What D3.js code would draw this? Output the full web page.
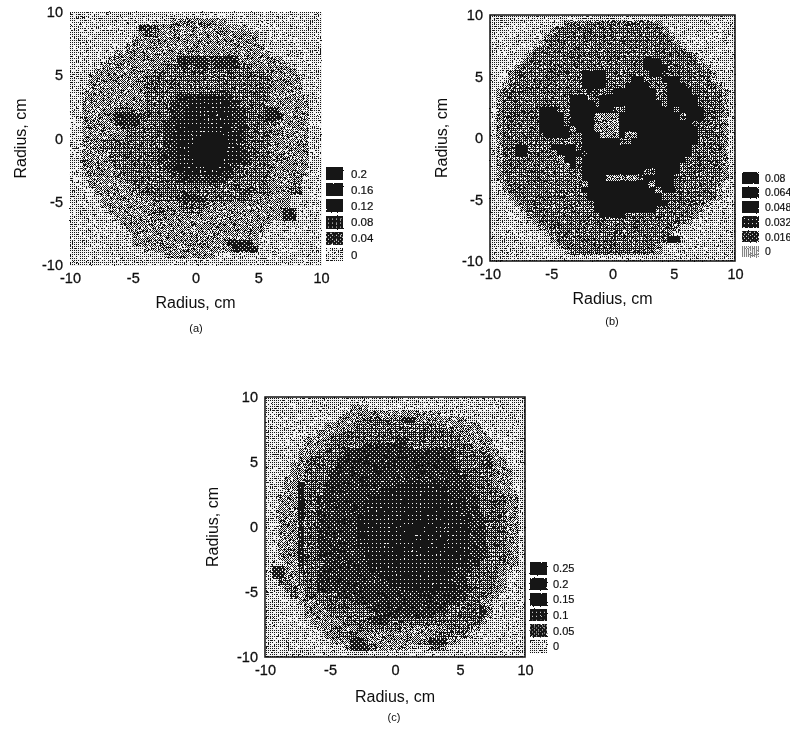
<!DOCTYPE html>
<html>
<head>
<meta charset="utf-8">
<script src="https://cdnjs.cloudflare.com/ajax/libs/d3/7.8.5/d3.min.js"></script>
<style>
	html, body { margin: 0; padding: 0; background: #fff; }
	text { font-family: "Liberation Sans", Arial, sans-serif; fill: #111; }
</style>
</head>
<body>
<div class="wrapper"></div>
<script>

// axis ticks, shared by all three maps
var tickValues = [-10, -5, 0, 5, 10];

// legend text, top to bottom
var legendA = ["0.2", "0.16", "0.12", "0.08", "0.04", "0"];
var legendB = ["0.08", "0.064", "0.048", "0.032", "0.016", "0"];
var legendC = ["0.25", "0.2", "0.15", "0.1", "0.05", "0"];

// grey level the scan shows in each legend box
var legendLevelsA = [5, 5, 5, 4, 3, 0];
var legendLevelsB = [5, 5, 5, 4, 3, 0];
var legendLevelsC = [5, 5, 5, 4, 3, 0];

// maps: 40 x 40 cells of 0.5 cm, top row is radius +10
var gridA = [
	"0000000000000000000000000000000000000000",
	"0000000000000000111111111000000000000000",
	"0000000000033211111111111111000000000000",
	"0000000000013211111111111111110000000000",
	"0000000000111111111111111111110000000000",
	"0000000001111111111111111111111000000000",
	"0000000111111111111111111111111100000000",
	"0000001111111111133333233331111111000000",
	"0000011111111112233233233332211111100000",
	"0000111111111222222222222222222111110000",
	"0001111111112222222222222222222211111000",
	"0001111111112222222222222222222211111000",
	"0011111111112222222222222222222211111000",
	"0011111111112222233344443322222211111100",
	"0011111111112222333444444332222111111100",
	"0011111222112222334444444433222331111100",
	"0011111333322222334444444433222333111100",
	"0011111333322223344444444433222221111100",
	"0011111122222223344444444433222111111100",
	"0011111112222223344445554443222211111100",
	"0011122222222223344455555443222211111100",
	"0011122222222223344555555443222211111100",
	"0011112222222233344555555443322211111100",
	"0011112222222233344455554443322211111100",
	"0011111222222223344444444332222211111100",
	"0011111122222222334444443322222211111100",
	"0001111112222222233333333222222211111000",
	"0001111111222222222222222222222211121000",
	"0000111111122222222222222223322211122000",
	"0000011111111222233333222222211111100000",
	"0000011111111111122222111111111111100000",
	"0000001111111221112221111111111111330000",
	"0000000111111111111111111111111111330000",
	"0000000011111111111111111111111100000000",
	"0000000001111111111111111111111000000000",
	"0000000000111111111111111111110000000000",
	"0000000000111111111111111333310000000000",
	"0000000000001111111111111133330000000000",
	"0000000000000001111111100000000000000000",
	"0000000000000000000000000000000000000000"
];

var gridB = [
	"0000000000000000000000000000000000000000",
	"0000000000001222222222222221000000000000",
	"0000000000122222222222222222100000000000",
	"0000000001222222222222222222210000000000",
	"0000000012222222222222222222221000000000",
	"0000000122222222222222222222222100000000",
	"0000001222222222222222222222222221000000",
	"0000012222222222222222222555222222100000",
	"0000122222222222222222222555522222210000",
	"0001222222222225555222222255322222221000",
	"0001222222222225555222255222555222221000",
	"0012222222222225555222555522255522222100",
	"0122222222222222332255555552255552222210",
	"0122222222222555225555555552255555222210",
	"0122222222222555525555555555255555222210",
	"0122222255522555555522555555552555522210",
	"0122222255552555511115555555555255522210",
	"0122222255552555511115555555555552222210",
	"0122222255555155511115555555555555222210",
	"0122222225555225551115115555555555222210",
	"0122222222222225555552255555555555222210",
	"0122552222555525555555555555555552222210",
	"0122552222155553555555555555555552222210",
	"0122222222215525555555555555555522222210",
	"0122222222221525555555555555555222222210",
	"0122222222222215555555555225555222222210",
	"0122222222222215555111112555552222222210",
	"0012222222222221555555555515552222222100",
	"0012222222222225555555555551552222222100",
	"0001222222222222555555555555222222222100",
	"0000122222222222255555555555522222210000",
	"0000012222222222255555555552222222100000",
	"0000001222222222225555222222222221000000",
	"0000000122222222222222222222222210000000",
	"0000000012222222222222222222221000000000",
	"0000000001222222222222222222210000000000",
	"0000000000122222222222222222255000000000",
	"0000000000012222222222222221000000000000",
	"0000000000001222222222222221000000000000",
	"0000000000000000000000000000000000000000"
];

var gridC = [
	"0000000000000000000000000000000000000000",
	"0000000000000111000000000000000000000000",
	"0000000000001111111111111110000000000000",
	"0000000000011112222223311111111000000000",
	"0000000001111122222222222222111110000000",
	"0000000011112222222222222222211111000000",
	"0000001111222222222233222222221111100000",
	"0000001112222223333333222222222211100000",
	"0000011122223333333333333333322222110000",
	"0000011222233333333333333333322222311000",
	"0000111222233333333333333333322222311000",
	"0000112222333333333333333333332222211100",
	"0001112222333333333333333333333222211100",
	"0001142223333333333344444443333322211100",
	"0001142223333333334444444444333322221100",
	"0011142233333333444444444444433332222110",
	"0011142233333334444444444444443332222110",
	"0011142233333334444444544544443332222110",
	"0011142233333344444445445444444333222110",
	"0011132233333344444454455454444333222110",
	"0011142233333344444544554544444333222110",
	"0011142233333344444445545445444333222110",
	"0011142233333344444544455454444333222110",
	"0011142233333334444454445444444333222110",
	"0011142233333334444444444444444333222110",
	"0001142223333333444444444444444332222110",
	"0331122233333333444444444444433322221100",
	"0331122233333333334444444444433222221000",
	"0022122233333333333444444444433222211000",
	"0002212243333333333334444444433322211000",
	"0000212222233333333333333333333222110000",
	"0000011122222233333333333333332221100000",
	"0000001112222222333333333333222223100000",
	"0000001111222222233333333322222223100000",
	"0000000111112222333222222222222221000000",
	"0000000011221122222221111111222210000000",
	"0000000001122211111111111122222100000000",
	"0000000000111332111111111333110000000000",
	"0000000000001333211111000222000000000000",
	"0000000000000000000000000000000000000000"
];

var panels = [
	{ id: "a", grid: gridA, legend: legendA, levels: legendLevelsA, left: 70, right: 321, top: 12, bottom: 265, frame: false,
		xLabelY: 308, yLabelX: 20, capX: 196, capY: 332, legX: 326, legY: 167, legStep: 16.2, legH: 13, legTextX: 351, legFont: 11.5 },
	{ id: "b", grid: gridB, legend: legendB, levels: legendLevelsB, left: 490, right: 735, top: 15, bottom: 261, frame: true,
		xLabelY: 304, yLabelX: 441, capX: 612, capY: 325, legX: 742, legY: 172, legStep: 14.7, legH: 11.5, legTextX: 765, legFont: 10.5 },
	{ id: "c", grid: gridC, legend: legendC, levels: legendLevelsC, left: 265, right: 525, top: 397, bottom: 657, frame: true,
		xLabelY: 702, yLabelX: 212, capX: 394, capY: 721, legX: 530, legY: 562, legStep: 15.6, legH: 12.5, legTextX: 553, legFont: 11 }
];

var svg = d3.select(".wrapper")
	.append("svg")
		.attr("width", 790)
		.attr("height", 729)
		.style("display", "block");

var defs = svg.append("defs");

// the scan softens every edge a little
defs.append("filter")
	.attr("id", "scan")
	.attr("filterUnits", "userSpaceOnUse")
	.attr("x", 0).attr("y", 0)
	.attr("width", 790).attr("height", 729)
	.append("feGaussianBlur")
		.attr("stdDeviation", 0.35);

// and roughens the halftone grain
var grain = defs.append("filter")
	.attr("id", "grain")
	.attr("filterUnits", "userSpaceOnUse")
	.attr("x", 0).attr("y", 0)
	.attr("width", 790).attr("height", 729);
grain.append("feTurbulence")
	.attr("type", "fractalNoise")
	.attr("baseFrequency", 0.7)
	.attr("numOctaves", 2)
	.attr("seed", 3)
	.attr("result", "noise");
grain.append("feDisplacementMap")
	.attr("in", "SourceGraphic")
	.attr("in2", "noise")
	.attr("scale", 2.4)
	.attr("xChannelSelector", "R")
	.attr("yChannelSelector", "G")
	.attr("result", "rough");
grain.append("feGaussianBlur")
	.attr("in", "rough")
	.attr("stdDeviation", 0.55);

// halftone fills: ink share per level, dithered with a 4x4 ordered matrix
var levelInk = [0.25, 0.44, 0.63, 0.82, 0.88, 1];
var bayer = [[0, 8, 2, 10], [12, 4, 14, 6], [3, 11, 1, 9], [15, 7, 13, 5]];

levelInk.forEach(function(ink, level) {
	var pat = defs.append("pattern")
		.attr("id", "level" + level)
		.attr("patternUnits", "userSpaceOnUse")
		.attr("width", 4)
		.attr("height", 4);
	pat.append("rect")
		.attr("width", 4).attr("height", 4)
		.attr("fill", "#f2f2f2");
	bayer.forEach(function(row, j) {
		row.forEach(function(t, i) {
			if (t < ink * 16) {
				pat.append("rect")
					.attr("x", i).attr("y", j)
					.attr("width", 1).attr("height", 1)
					.attr("fill", "#141414");
			}
		});
	});
});

var fillFor = d3.scaleOrdinal()
	.domain(d3.range(6))
	.range(d3.range(6).map(function(l) { return "url(#level" + l + ")"; }));

var page = svg.append("g").attr("filter", "url(#scan)");

panels.forEach(drawPanel);

function drawPanel(p) {
	var g = page.append("g").attr("class", "panel-" + p.id);

	var n = p.grid.length;
	var cols = d3.scaleBand().domain(d3.range(n)).range([p.left, p.right]);
	var rows = d3.scaleBand().domain(d3.range(n)).range([p.top, p.bottom]);
	var x = d3.scaleLinear().domain([-10, 10]).range([p.left, p.right]);
	var y = d3.scaleLinear().domain([-10, 10]).range([p.bottom, p.top]);

	// cells
	var rowGroups = g.append("g")
		.attr("class", "cells")
		.attr("filter", "url(#grain)")
		.selectAll("g.row")
		.data(p.grid)
		.enter()
		.append("g")
			.attr("class", "row");

	rowGroups.selectAll("rect")
		.data(function(d, j) {
			return d.split("").map(function(c, i) { return { i: i, j: j, level: +c }; });
		})
		.enter()
		.append("rect")
			.attr("x", function(d) { return cols(d.i); })
			.attr("y", function(d) { return rows(d.j); })
			.attr("width", cols.bandwidth() + 0.5)
			.attr("height", rows.bandwidth() + 0.5)
			.attr("shape-rendering", "crispEdges")
			.attr("fill", function(d) { return fillFor(d.level); });

	if (p.frame) {
		g.append("rect")
			.attr("x", p.left)
			.attr("y", p.top)
			.attr("width", p.right - p.left)
			.attr("height", p.bottom - p.top)
			.attr("fill", "none")
			.attr("stroke", "#111")
			.attr("stroke-width", 1.5);
	}

	// axes, lines hidden: the scan only keeps the numbers
	var xAxis = g.append("g")
		.attr("transform", "translate(0," + (p.bottom + 8) + ")")
		.call(d3.axisBottom(x).tickValues(tickValues).tickFormat(String).tickSize(0).tickPadding(0));
	var yAxis = g.append("g")
		.attr("transform", "translate(" + (p.left - 7) + ",0)")
		.call(d3.axisLeft(y).tickValues(tickValues).tickFormat(String).tickSize(0).tickPadding(0));

	[xAxis, yAxis].forEach(function(ax) {
		ax.select(".domain").remove();
		ax.attr("font-family", null).attr("font-size", null);
		ax.selectAll("text")
			.style("font-size", "14.5px")
			.style("stroke", "#111")
			.style("stroke-width", "0.3px");
	});

	// titles
	g.append("text")
		.attr("x", (p.left + p.right) / 2)
		.attr("y", p.xLabelY)
		.attr("text-anchor", "middle")
		.style("font-size", "16px")
		.text("Radius, cm");

	g.append("text")
		.attr("transform", "translate(" + p.yLabelX + "," + (p.top + p.bottom) / 2 + ") rotate(-90)")
		.attr("text-anchor", "middle")
		.attr("dominant-baseline", "central")
		.style("font-size", "16px")
		.text("Radius, cm");

	g.append("text")
		.attr("x", p.capX)
		.attr("y", p.capY)
		.attr("text-anchor", "middle")
		.style("font-size", "11px")
		.text("(" + p.id + ")");

	// legend
	var legY = d3.scaleBand()
		.domain(d3.range(p.legend.length))
		.range([p.legY, p.legY + p.legStep * p.legend.length]);

	var items = g.selectAll("g.legend-item")
		.data(p.legend)
		.enter()
		.append("g")
			.attr("class", "legend-item")
			.attr("transform", function(d, i) { return "translate(0," + legY(i) + ")"; });

	items.append("rect")
		.attr("x", p.legX)
		.attr("width", 17)
		.attr("height", p.legH)
		.attr("shape-rendering", "crispEdges")
		.attr("filter", "url(#grain)")
		.attr("fill", function(d, i) { return fillFor(p.levels[i]); });

	items.append("text")
		.attr("x", p.legTextX)
		.attr("y", p.legH / 2)
		.attr("dominant-baseline", "central")
		.style("font-size", p.legFont + "px")
		.style("stroke", "#111")
		.style("stroke-width", "0.2px")
		.text(function(d) { return d; });
}

</script>
</body>
</html>
